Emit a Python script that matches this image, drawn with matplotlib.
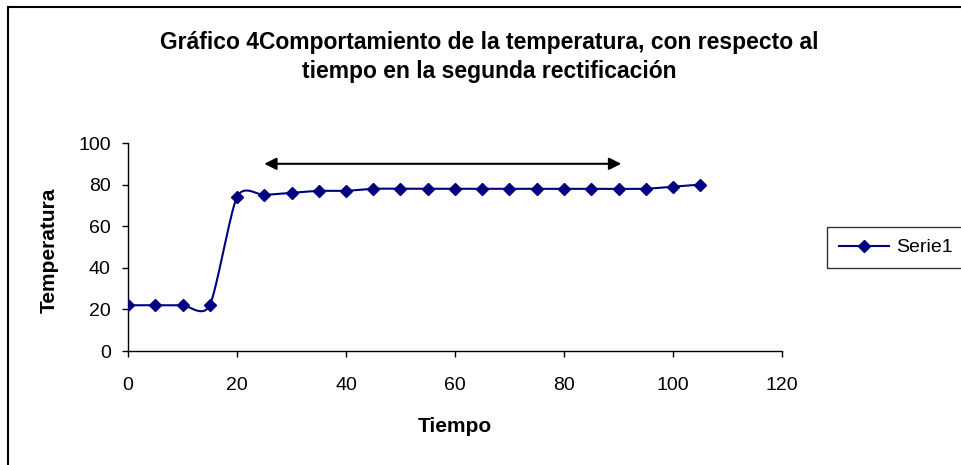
import numpy as np
import matplotlib
matplotlib.use("Agg")
import matplotlib.pyplot as plt
from matplotlib.lines import Line2D

plt.rcParams['font.family'] = ['Liberation Sans', 'DejaVu Sans']

# ---- data ----
tiempo = [0, 5, 10, 15, 20, 25, 30, 35, 40, 45, 50, 55, 60, 65, 70, 75, 80, 85, 90, 95, 100, 105]
temperatura = [22, 22, 22, 22, 74, 75, 76, 77, 77, 78, 78, 78, 78, 78, 78, 78, 78, 78, 78, 78, 79, 80]
x_ticks = [0, 20, 40, 60, 80, 100, 120]
y_ticks = [0, 20, 40, 60, 80, 100]
arrow_x = [25, 90.5]
arrow_y = 90
title = "Gráfico 4Comportamiento de la temperatura, con respecto al\ntiempo en la segunda rectificación"
serie = "Serie1"
color = "#000080"


def smooth(xs, ys, n=30, k=8.0):
    """Bezier smoothing through the points (similar to Excel's smoothed line)."""
    p = np.column_stack([xs, ys]).astype(float)
    out = [p[0]]
    for i in range(len(p) - 1):
        p0 = p[i - 1] if i > 0 else p[i]
        p1 = p[i]
        p2 = p[i + 1]
        p3 = p[i + 2] if i + 2 < len(p) else p[i + 1]
        c1 = p1 + (p2 - p0) / k
        c2 = p2 - (p3 - p1) / k
        t = np.linspace(0, 1, n)[1:, None]
        seg = ((1 - t) ** 3) * p1 + 3 * ((1 - t) ** 2) * t * c1 + 3 * (1 - t) * t ** 2 * c2 + t ** 3 * p2
        out.extend(seg)
    out = np.array(out)
    return out[:, 0], out[:, 1]


fig = plt.figure(figsize=(9.61, 4.65), dpi=100)
ax = fig.add_axes([128 / 961, 1 - 351 / 465, (782 - 128) / 961, (351 - 143) / 465])

sx, sy = smooth(tiempo, temperatura)
ax.plot(sx, sy, color=color, lw=1.5, zorder=3)
ax.plot(tiempo, temperatura, linestyle='none', marker='D', ms=6.5, color=color,
        markeredgecolor=color, zorder=4)

ax.annotate('', xy=(arrow_x[1], arrow_y), xytext=(arrow_x[0], arrow_y),
            arrowprops=dict(arrowstyle='<|-|>', color='black', lw=1.5,
                            mutation_scale=18, shrinkA=0, shrinkB=0))

ax.set_xlim(0, 120)
ax.set_ylim(0, 100)
ax.set_xticks(x_ticks)
ax.set_yticks(y_ticks)
for s in ['top', 'right']:
    ax.spines[s].set_visible(False)
for s in ['left', 'bottom']:
    ax.spines[s].set_linewidth(1.0)
    ax.spines[s].set_color('black')
ax.tick_params(axis='both', direction='out', length=4.5, width=1.0, labelsize=14)
ax.tick_params(axis='x', pad=14)
ax.tick_params(axis='y', pad=8)

ax.set_xlabel("Tiempo", fontsize=15, fontweight='bold')
ax.set_ylabel("Temperatura", fontsize=15, fontweight='bold')
ax.xaxis.set_label_coords(0.5, (351 - 417) / 208)
ax.yaxis.set_label_coords((59 - 128) / 654, 0.485)

fig.text(489 / 961, 1 - 57 / 465, title, ha='center', va='center', fontsize=16.5,
         fontweight='bold', linespacing=1.35)

handle = Line2D([], [], color=color, lw=1.5, marker='D', ms=6.5)
leg = fig.legend([handle], [serie], loc='center left',
                 bbox_to_anchor=(827 / 961, 1 - 247.5 / 465), fontsize=14,
                 frameon=True, fancybox=False, edgecolor='black', borderpad=0.6,
                 handlelength=2.6, handletextpad=0.35, borderaxespad=0)
leg.get_frame().set_linewidth(1.0)

# figure border (top and left visible in crop)
fig.add_artist(Line2D([8 / 961, 8 / 961], [0, 1 - 7 / 465], transform=fig.transFigure,
                      color='black', lw=1.5))
fig.add_artist(Line2D([8 / 961, 1], [1 - 7 / 465, 1 - 7 / 465], transform=fig.transFigure,
                      color='black', lw=1.5))

fig.savefig("out.png", dpi=100)
